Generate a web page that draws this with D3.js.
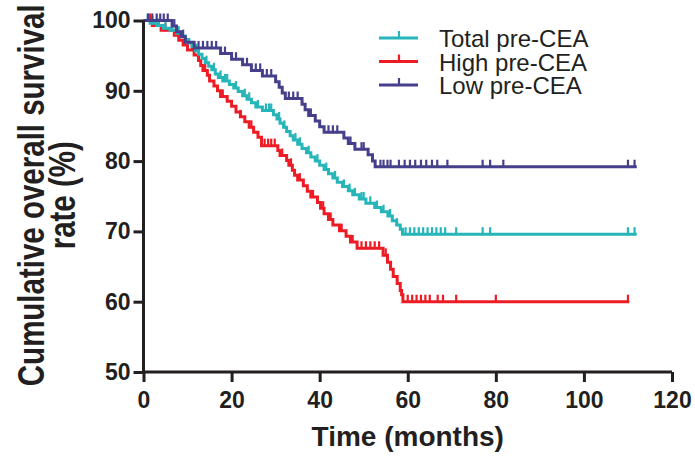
<!DOCTYPE html>
<html>
<head>
<meta charset="utf-8">
<script src="https://cdn.jsdelivr.net/npm/d3@7"></script>
<style>
  body { margin: 0; background: #fff; }
  text { font-family: "Liberation Sans", Arial, sans-serif; fill: #231f20; }
</style>
</head>
<body>
<script>
// Kaplan-Meier steps: event times (months) and survival (%) after each step
const totalTimes = [1.5, 3, 4.5, 6, 7.5, 8.5, 9.5, 10.3, 11, 11.8, 12.5, 13.3, 14, 14.8, 15.5, 16.3, 17, 18, 19.5, 20.5, 21.5, 22.5, 23.5, 24.5, 25.5, 27, 29.5, 30.3, 31, 31.8, 32.5, 33.3, 34, 35, 36, 37, 38, 39, 40, 41, 42, 43, 44, 45.2, 46.5, 47.5, 49, 50.5, 52.5, 54, 55.5, 56.5, 57.5, 58.3, 58.8];
const totalSurv = [99.6, 99.3, 98.9, 98.6, 98.2, 97.8, 97.3, 96.8, 96.3, 95.7, 95.2, 94.6, 94.0, 93.5, 93.0, 92.4, 91.9, 91.4, 90.9, 90.4, 89.9, 89.3, 88.8, 88.3, 87.7, 87.2, 86.6, 86.0, 85.4, 84.8, 84.2, 83.6, 83.0, 82.4, 81.8, 81.2, 80.6, 80.0, 79.4, 78.8, 78.2, 77.6, 77.0, 76.4, 75.8, 75.2, 74.6, 74.0, 73.4, 72.8, 72.2, 71.5, 70.9, 70.3, 69.6];
const totalCensor = [1, 2, 3.5, 5, 6.5, 8, 12, 14.3, 16, 17.5, 18.5, 19, 21, 23, 24, 26, 27.8, 28.5, 29, 30.8, 32, 34.5, 35.5, 37.5, 39.5, 41.5, 43.5, 45.5, 46.8, 48, 49.5, 50, 51.5, 53, 54.5, 56, 57.5, 59.5, 60.5, 61.5, 62.5, 63.5, 64.5, 65.5, 66.5, 67.5, 68.5, 71, 77, 78.7, 110, 111.5];
const totalEnd = 112;

const highTimes = [2, 4, 7, 8, 9, 10, 11.5, 12.5, 13, 13.5, 14.5, 15, 16, 16.8, 17.5, 19, 20, 21, 22, 23, 24, 25, 26, 26.8, 30.5, 31, 32.5, 33, 33.8, 34.3, 35, 36.3, 37.2, 38, 39.5, 40.2, 41, 42, 43, 44.5, 46, 47, 48.5, 54.4, 55.4, 56.1, 56.7, 57.6, 58.3, 58.6, 58.9];
const highSurv = [99.3, 98.6, 97.9, 97.2, 96.5, 95.8, 95.1, 94.3, 93.6, 92.9, 92.2, 91.4, 90.7, 90.0, 89.2, 88.5, 87.8, 87.0, 86.3, 85.6, 84.8, 84.1, 83.4, 82.2, 81.5, 80.8, 80.1, 79.4, 78.7, 78.0, 77.3, 76.5, 75.7, 74.9, 74.1, 73.3, 72.5, 71.7, 70.9, 70.1, 69.3, 68.5, 67.6, 66.6, 65.6, 64.6, 63.6, 62.6, 61.6, 61.0, 60.0];
const highCensor = [1.5, 3, 5, 11, 14, 18, 22, 24.5, 27.5, 28.3, 29, 29.8, 31.5, 33.5, 35.5, 38.5, 40.8, 42.5, 45, 47.5, 49.5, 50.5, 51.5, 52.5, 53.5, 55, 60, 61, 62, 63, 64, 65, 66.8, 68, 71, 80, 110];
const highEnd = 110.3;

const lowTimes = [6.5, 7.5, 8.5, 9.5, 11.5, 17.5, 20, 22.5, 24.5, 27, 30, 30.8, 31.5, 32.2, 36, 36.7, 37.5, 39, 40, 41, 45.5, 46.5, 48, 51, 52, 52.6];
const lowSurv = [99.2, 98.4, 97.7, 96.9, 96.1, 95.3, 94.5, 93.7, 92.9, 92.1, 91.3, 90.5, 89.7, 88.9, 88.1, 87.3, 86.5, 85.7, 84.9, 84.1, 83.3, 82.5, 81.7, 80.9, 80.0, 79.2];
const lowCensor = [1, 2, 3, 3.8, 4.6, 5.5, 7, 9, 12.5, 13.5, 14.5, 15.5, 16.5, 18.5, 21, 23.5, 25.5, 26.5, 28, 29, 33, 34, 35, 38, 42, 43, 44, 47, 49.5, 50, 53.8, 54.5, 55.4, 56.1, 58, 59.3, 60.5, 61.7, 63, 64.2, 65.5, 66.7, 69, 77, 78.7, 81.7, 110, 111.5];
const lowEnd = 112;

const groupNames = ["Total pre-CEA", "High pre-CEA", "Low pre-CEA"];
const groupColors = ["#26b5b8", "#ed1c24", "#463f8b"];
const xTicks = [0, 20, 40, 60, 80, 100, 120];
const yTicks = [50, 60, 70, 80, 90, 100];

const width = 695, height = 457;
const svg = d3.select("body").append("svg")
  .attr("width", width)
  .attr("height", height);

const x = d3.scaleLinear().domain([0, 120]).range([143.5, 672]);
const y = d3.scaleLinear().domain([50, 100]).range([372, 20.5]);

function stepPoints(times, surv, end) {
  const pts = [{ t: 0, s: 100 }];
  times.forEach((t, i) => pts.push({ t: t, s: surv[i] }));
  pts.push({ t: end, s: surv[surv.length - 1] });
  return pts;
}
function survAt(times, surv, t) {
  let s = 100;
  times.forEach((tt, i) => { if (tt <= t) s = surv[i]; });
  return s;
}

const groups = [
  { times: totalTimes, surv: totalSurv, censor: totalCensor, end: totalEnd, color: groupColors[0] },
  { times: highTimes, surv: highSurv, censor: highCensor, end: highEnd, color: groupColors[1] },
  { times: lowTimes, surv: lowSurv, censor: lowCensor, end: lowEnd, color: groupColors[2] }
];

const line = d3.line()
  .x(d => x(d.t))
  .y(d => y(d.s))
  .curve(d3.curveStepAfter);

// draw low last so it sits on top like the original
[1, 0, 2].forEach(gi => {
  const g = groups[gi];
  svg.append("path")
    .datum(stepPoints(g.times, g.surv, g.end))
    .attr("d", line)
    .attr("fill", "none")
    .attr("stroke", g.color)
    .attr("stroke-width", 3);
  svg.append("g").selectAll("line")
    .data(g.censor)
    .join("line")
    .attr("x1", d => x(d)).attr("x2", d => x(d))
    .attr("y1", d => y(survAt(g.times, g.surv, d)) + 1)
    .attr("y2", d => y(survAt(g.times, g.surv, d)) - 7)
    .attr("stroke", g.color)
    .attr("stroke-width", 2.2);
});

// axes
const xAxis = svg.append("g")
  .attr("transform", `translate(0, ${y(50)})`)
  .call(d3.axisBottom(x).tickValues(xTicks).tickSize(10).tickPadding(10).tickFormat(d3.format("d")));
const yAxis = svg.append("g")
  .attr("transform", `translate(${x(0)}, 0)`)
  .call(d3.axisLeft(y).tickValues(yTicks).tickSize(10).tickPadding(3).tickFormat(d3.format("d")));
[xAxis, yAxis].forEach(a => {
  a.select(".domain").attr("stroke", "#231f20").attr("stroke-width", 3);
  a.selectAll(".tick line").attr("stroke", "#231f20").attr("stroke-width", 3);
  a.selectAll(".tick text")
    .attr("fill", "#231f20")
    .style("font-size", "23px")
    .style("font-weight", "bold");
});
xAxis.select(".domain").attr("d", `M${x(0)},0H${x(120)}`);
yAxis.select(".domain").attr("d", `M0,${y(50)}V${y(100)}`);

// axis titles
svg.append("text")
  .attr("x", (x(0) + x(120)) / 2)
  .attr("y", 446)
  .attr("text-anchor", "middle")
  .style("font-size", "28px")
  .style("font-weight", "bold")
  .text("Time (months)");

// glyphs in the reference y title are taller than wide, so stretch across the baseline
const yTitle = svg.append("text")
  .attr("transform", `translate(44, ${y(75) - 1}) rotate(-90) scale(1, 1.25)`)
  .attr("text-anchor", "middle")
  .style("font-size", "29.5px")
  .style("font-weight", "bold");
yTitle.append("tspan").attr("x", 0).attr("dy", 0).text("Cumulative overall survival");
yTitle.append("tspan").attr("x", 0).attr("dy", 24.5).text("rate (%)");

// legend
const legend = svg.append("g");
groupNames.forEach((name, i) => {
  const ly = 38 + i * 23.5;
  legend.append("line")
    .attr("x1", 379).attr("x2", 418)
    .attr("y1", ly).attr("y2", ly)
    .attr("stroke", groupColors[i]).attr("stroke-width", 3);
  legend.append("line")
    .attr("x1", 399).attr("x2", 399)
    .attr("y1", ly).attr("y2", ly - 7)
    .attr("stroke", groupColors[i]).attr("stroke-width", 2.2);
  legend.append("text")
    .attr("x", 439).attr("y", ly + 9)
    .style("font-size", "24px")
    .text(name);
});
</script>
</body>
</html>
